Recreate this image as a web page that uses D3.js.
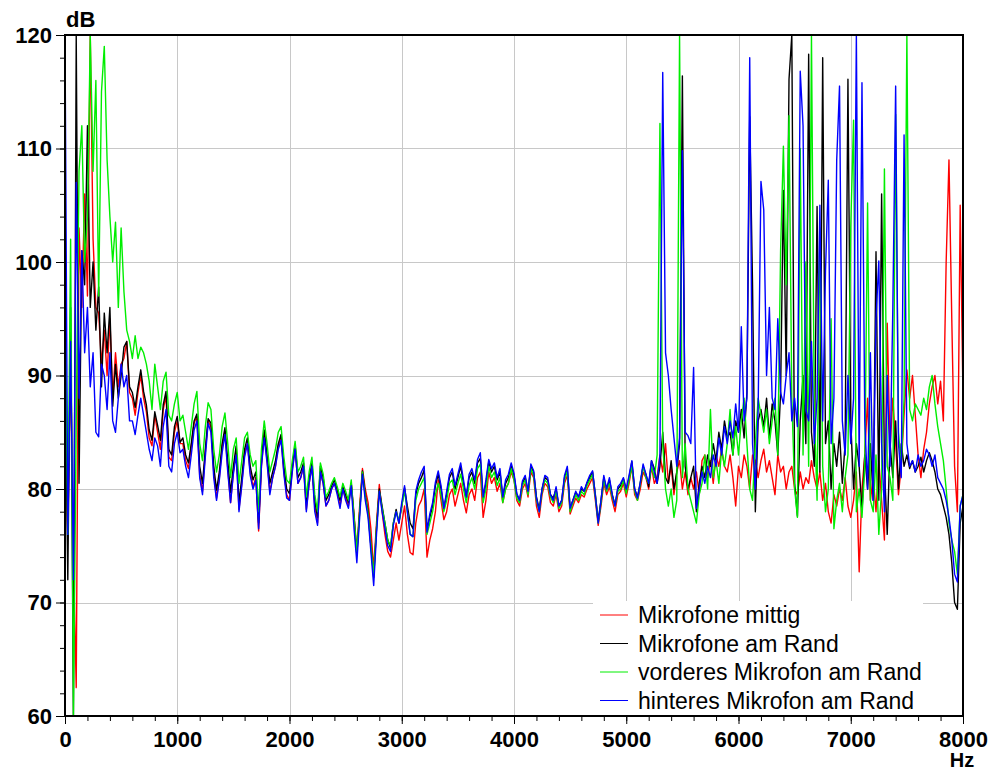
<!DOCTYPE html>
<html><head><meta charset="utf-8">
<script src="https://cdn.jsdelivr.net/npm/d3@7"></script>
<style>body{margin:0;background:#fff;} text{font-family:"Liberation Sans",Arial,sans-serif;}</style>
</head><body><svg id="c" width="994" height="771"></svg>
<script>
// frequency resolution of the sampled spectra (Hz)
const freqStep = 25;
const xTicksMajor = [0,1000,2000,3000,4000,5000,6000,7000,8000];
const yTicksMajor = [60,70,80,90,100,110,120];
const seriesNames = ["Mikrofone mittig","Mikrofone am Rand","vorderes Mikrofon am Rand","hinteres Mikrofon am Rand"];
const seriesColors = ["#ff0000","#000000","#00ee00","#0000ff"];

const red = [
88,76,92,74,62.5,103,96,106,97,120,102,96,95.5,91,94,90,95,88,92,89,91,91.5,93,88.5,
88.0,86.5,88.5,90.0,88.0,86.8,84.5,83.8,86.5,85.0,83.5,87.0,88.2,82.8,82.5,85.0,86.0,
84.0,84.0,82.5,81.8,83.8,85.8,86.4,81.2,79.8,83.2,86.0,85.5,81.5,79.2,81.0,83.8,85.0,81.8,78.8,81.5,83.5,78.2,80.5,83.2,84.0,81.5,80.2,81.0,76.3,82.0,85.0,82.5,79.8,81.0,82.0,83.8,84.5,81.5,79.5,79.0,
81.8,83.5,80.5,81.0,82.0,78.2,80.5,82.0,78.5,77.0,81.5,80.5,78.5,79.0,80.0,80.5,79.8,78.5,80.0,79.2,78.5,80.5,77.8,74.5,78.5,81.8,80.0,78.8,76.5,73.0,77.0,80.4,78.0,76.0,74.5,74.0,75.5,77.0,75.5,77.0,
78.5,76.0,74.4,74.2,77.0,78.5,79.0,80.0,74.0,75.5,76.5,78.0,80.8,79.0,77.3,78.0,79.5,80.0,78.5,79.5,80.5,79.0,77.9,79.5,80.0,79.0,81.0,81.5,77.5,79.0,81.5,80.5,81.0,79.8,80.5,78.8,80.0,80.5,81.5,80.8,
79.0,78.5,80.0,80.5,79.3,81.5,81.0,78.5,77.5,79.5,80.5,80.2,78.8,78.5,79.5,78.0,78.5,80.5,81.2,77.8,78.5,79.2,78.8,79.5,79.3,80.0,80.5,81.0,79.0,76.8,78.5,80.5,79.5,80.2,79.0,78.0,79.5,79.8,80.5,79.3,
80.5,82.0,79.5,79.0,80.0,81.5,81.0,
80.0,82.0,80.5,81.0,83.0,81.5,84.0,80.5,82.0,79.5,
81.5,82.5,80.0,81.5,79.5,81.0,80.0,81.5,79.5,82.5,
83.0,81.0,82.5,80.5,83.0,82.0,83.5,82.0,81.5,83.0,
81.0,78.5,82.0,81.0,83.0,82.0,80.0,83.0,82.5,81.0,
82.5,83.5,81.5,82.5,81.0,79.5,83.0,81.5,82.0,80.0,
81.5,82.0,80.0,79.5,81.5,80.0,81.0,80.5,82.5,81.0,
80.0,81.5,79.0,80.5,78.0,77.0,79.5,78.5,80.0,79.0,
81.0,78.5,77.5,79.0,81.5,72.7,80.0,83.0,88.0,79.0,
81.0,78.0,82.5,79.0,75.5,94.6,83.5,88.0,84.0,79.5,
82.0,86.5,90.5,88.0,90.0,86.5,83.0,81.0,83.5,85.0,
87.5,89.0,90.0,87.5,89.5,86.0,100.0,109.0,95.0,82.0,
78.0,105.0,88.0
];

const black = [
92,72,96,60,120,80.5,101,98,112,96,100,94,97.8,89,95.5,92,96,87.3,91,88,90,92.5,93,89,
88.5,87.2,89.0,90.5,88.6,87.4,85.2,84.3,86.8,85.6,84.3,87.4,88.6,83.5,83.0,85.5,86.4,
84.1,84.5,83.0,82.3,84.0,86.0,86.6,82.0,80.5,83.5,86.2,85.8,82.0,79.9,81.5,84.0,85.4,82.5,79.7,82.0,83.8,78.8,81.0,83.5,84.5,82.0,80.8,81.5,77.0,82.5,85.2,83.0,80.5,81.5,82.5,84.0,84.8,82.0,80.0,79.6,
82.0,83.9,81.0,81.5,82.3,78.8,81.0,82.3,79.0,77.5,82.0,81.0,79.0,79.5,80.3,80.8,80.0,79.0,80.2,79.5,78.8,80.5,77.5,74.2,78.0,81.6,79.5,78.0,75.0,72.2,76.5,80.0,78.5,77.0,75.5,74.8,77.0,78.2,77.0,78.5,
80.1,78.5,77.0,76.5,79.5,80.5,81.0,81.7,76.5,77.5,78.5,80.3,81.3,80.0,78.3,79.5,81.0,81.5,80.0,81.0,82.0,80.5,79.3,81.0,81.5,80.5,82.3,82.7,79.2,80.5,82.4,81.5,82.0,80.8,81.5,79.3,80.5,81.0,82.0,81.2,
79.5,79.0,80.5,81.0,79.8,82.0,81.5,79.3,78.2,80.0,81.0,80.8,79.5,79.2,80.0,78.5,79.0,81.0,81.8,78.3,79.0,79.7,79.3,80.0,79.8,80.5,81.0,81.5,79.5,77.2,79.0,81.0,80.0,80.8,79.5,78.6,80.0,80.3,80.9,79.8,
81.0,82.4,80.0,79.3,80.5,82.0,81.3,
80.2,82.5,81.8,80.5,82.0,85.0,81.0,80.5,82.5,80.0,
81.5,84.0,116.4,82.0,80.0,81.0,82.0,78.0,80.5,82.0,
81.0,83.0,82.0,84.0,82.5,85.0,83.5,86.0,84.5,85.0,
83.0,86.0,85.0,87.0,84.5,88.5,112.8,98.0,78.0,86.0,
87.0,85.5,88.0,84.5,87.5,86.0,83.0,88.5,106.3,90.0,
116.1,120,80.5,77.6,86.0,90.0,84.0,118.3,85.0,82.0,
104.9,81.5,118.0,84.0,86.0,80.0,84.0,82.0,85.0,80.5,
84.0,116.1,86.0,80.0,84.0,82.0,78.0,83.0,80.0,84.0,
79.0,100.9,79.0,106.0,82.0,76.0,84.0,81.0,86.0,80.0,
84.0,82.0,83.0,81.8,82.5,81.5,82.0,82.8,81.5,82.5,
83.2,82.5,81.5,80.0,79.5,78.5,77.5,76.0,73.5,70.0,
69.4,77.0,78.5
];

const green = [
100,76,102,60,86,108,112,100,104,120,108,116,97,115,119,109,104,100,103.5,96,103,97.4,94,93,
91.5,93.5,91.5,92.5,92.0,91.0,89.5,87.0,91.0,89.0,87.0,89.5,90.3,86.5,86.0,87.5,88.5,
86.0,86.5,85.0,83.5,85.5,87.5,88.6,84.0,82.5,85.5,87.6,87.0,83.5,81.5,83.0,85.5,86.7,84.0,81.0,83.5,84.5,80.5,82.5,84.5,85.0,83.0,82.0,82.5,78.0,83.5,86.0,84.0,81.5,82.5,83.5,85.0,85.5,82.8,80.8,80.5,
82.5,84.2,81.5,82.0,82.8,79.3,81.5,82.8,79.5,78.0,82.3,81.3,79.3,79.8,80.5,81.0,80.2,79.3,80.5,79.8,79.0,80.8,77.5,74.5,78.0,81.5,79.3,77.8,75.0,72.5,76.5,79.8,78.3,77.0,75.5,75.0,77.0,78.0,77.2,78.5,
79.8,78.0,76.0,75.8,79.0,80.0,80.5,81.0,76.0,77.0,78.0,79.5,80.5,79.5,78.0,79.0,80.5,80.8,79.5,80.5,81.3,80.0,78.8,80.3,81.0,80.0,81.8,82.2,78.8,80.0,82.0,81.0,81.5,80.3,81.0,78.8,80.0,80.5,81.8,80.8,
79.2,78.8,80.3,80.8,79.5,81.8,81.2,79.0,78.0,79.8,80.8,80.5,79.3,78.8,79.8,78.3,78.8,80.8,81.6,78.0,78.8,79.5,79.0,79.8,79.5,80.3,80.8,81.3,79.3,77.0,78.8,80.8,79.8,80.5,79.3,78.5,79.8,80.0,80.8,79.6,
80.8,82.0,79.8,79.0,80.5,82.0,81.0,
80.5,82.0,81.0,83.0,112.2,84.0,80.0,78.5,80.0,77.5,
79.0,120,81.0,84.0,80.0,79.0,78.0,77.0,79.5,80.5,
83.0,80.0,87.0,81.0,82.5,80.5,83.5,82.0,84.0,87.0,
83.0,85.5,83.0,86.0,88.0,84.0,80.0,79.0,84.0,88.0,
86.5,85.0,87.0,84.0,86.0,88.0,83.0,101.0,110.2,98.0,
112.9,88.0,80.0,77.5,110.0,83.0,100.0,82.0,120,87.0,
79.0,103.0,82.0,78.0,80.0,95.0,76.5,79.0,80.5,78.0,
81.0,83.0,103.1,112.5,78.0,80.0,77.5,82.0,105.2,79.0,
78.0,83.0,76.0,80.0,108.2,82.0,81.0,79.0,113.0,85.0,
82.0,88.0,120,87.0,86.0,87.5,87.0,86.5,88.0,87.0,
89.0,90.0,87.5,85.5,84.0,82.5,80.0,77.0,75.5,74.5,
72.5,78.5,79.5
];

const blue = [
120,76,93,72,107,88,101,92,96,89,92,85,84.6,91,90,87,92,86,85,88,91,89,90,86,
86.0,84.8,86.5,88.0,86.5,85.0,83.5,82.5,84.5,83.8,82.0,85.5,87.0,82.0,81.5,84.0,85.0,
83.2,83.5,82.0,81.0,83.0,85.2,86.0,81.0,79.5,82.8,85.8,85.0,81.0,79.0,80.8,83.2,84.8,81.5,78.8,81.3,83.0,78.0,80.3,82.8,84.0,81.2,80.0,80.8,76.5,82.0,84.5,82.3,79.5,81.0,82.0,83.5,84.3,81.3,79.2,79.0,
81.5,83.5,80.5,81.0,82.0,78.0,80.5,82.0,78.0,76.8,81.5,80.5,78.5,79.0,80.0,80.5,79.5,78.3,80.0,79.0,78.3,80.3,76.5,73.5,77.5,81.3,79.0,77.5,74.5,71.5,76.0,79.8,78.0,76.5,75.0,74.5,76.8,78.0,77.0,78.8,
80.3,78.0,76.0,75.8,79.8,80.8,81.5,82.0,76.2,77.8,78.8,80.6,81.6,80.3,78.3,79.8,81.3,81.8,80.3,81.3,82.3,80.8,79.3,81.3,81.8,80.8,82.6,83.2,79.3,80.8,82.6,81.8,82.3,81.0,81.8,79.3,80.8,81.3,82.3,81.4,
79.6,79.0,80.7,81.2,79.8,82.2,81.6,79.2,78.0,80.0,81.2,81.0,79.5,79.0,80.2,78.5,79.0,81.2,82.0,78.3,79.0,79.8,79.3,80.2,79.8,80.6,81.2,81.6,79.4,77.0,79.0,81.2,80.0,81.0,79.5,78.5,80.2,80.5,81.0,80.0,
81.2,82.5,80.0,79.2,80.6,82.2,81.3,
80.5,82.5,81.5,80.5,83.0,116.7,92.0,90.0,87.0,84.5,
82.0,84.5,109.8,85.0,84.7,84.0,90.7,78.3,80.0,81.5,
80.5,82.0,81.0,83.0,82.0,84.5,83.0,85.5,84.0,86.0,
84.5,87.5,85.0,94.3,86.0,88.0,118.0,84.0,80.0,87.0,
107.1,104.6,90.0,96.0,88.0,87.0,95.0,88.5,87.5,90.0,
92.0,86.0,88.0,85.5,116.8,112.0,87.0,86.0,93.0,84.0,
88.0,105.0,86.0,99.2,107.2,84.0,88.0,109.0,115.5,86.0,
83.0,90.0,84.0,88.0,120,82.0,115.8,86.0,80.0,92.0,
79.0,95.0,100.1,84.0,78.0,90.0,82.0,96.0,115.5,84.0,
81.0,111.2,84.0,82.0,82.5,81.5,83.0,82.0,82.5,83.5,
83.0,82.0,83.0,81.0,80.5,80.0,79.0,77.5,75.5,72.5,
71.8,78.5,79.5
];

const seriesValues = [red, black, green, blue];

const svg = d3.select("#c");
const mLeft = 65, mRight = 963, mTop = 35, mBottom = 716;
const x = d3.scaleLinear().domain([0, 8000]).range([mLeft, mRight]);
const y = d3.scaleLinear().domain([60, 120]).range([mBottom, mTop]);

// grid
const grid = svg.append("g").attr("stroke", "#c8c8c8").attr("stroke-width", 1);
xTicksMajor.slice(1, -1).forEach(v => grid.append("line")
  .attr("x1", Math.round(x(v)) + 0.5).attr("x2", Math.round(x(v)) + 0.5)
  .attr("y1", mTop).attr("y2", mBottom));
yTicksMajor.slice(1, -1).forEach(v => grid.append("line")
  .attr("y1", Math.round(y(v)) + 0.5).attr("y2", Math.round(y(v)) + 0.5)
  .attr("x1", mLeft).attr("x2", mRight));

svg.append("defs").append("clipPath").attr("id", "clip")
  .append("rect").attr("x", mLeft).attr("y", mTop).attr("width", mRight - mLeft).attr("height", mBottom - mTop);

const plot = svg.append("g").attr("clip-path", "url(#clip)");
const line = d3.line().x((d, i) => x(i * freqStep)).y(d => y(d));
seriesValues.forEach((vals, k) => {
  plot.append("path").datum(vals)
    .attr("fill", "none").attr("stroke", seriesColors[k])
    .attr("stroke-width", 1.4).attr("stroke-linejoin", "round")
    .attr("d", line);
});

// legend (white box covers grid)
const lg = svg.append("g");
lg.append("rect").attr("x", 593).attr("y", 601).attr("width", 330).attr("height", 114).attr("fill", "#fff");
seriesNames.forEach((n, k) => {
  const cy = 615 + k * 28.5;
  lg.append("line").attr("x1", 600).attr("x2", 628).attr("y1", cy).attr("y2", cy)
    .attr("stroke", seriesColors[k]).attr("stroke-width", 1);
  lg.append("text").attr("x", 638).attr("y", cy).attr("dy", "0.35em")
    .attr("font-size", 23).attr("fill", "#000").text(n);
});

// axes
const xAxisMinor = d3.axisBottom(x).tickValues(d3.range(0, 8001, 200)).tickSize(5).tickFormat("");
const xAxis = d3.axisBottom(x).tickValues(xTicksMajor).tickSize(8).tickPadding(7).tickFormat(d3.format("d"));
const yAxisMinor = d3.axisLeft(y).tickValues(d3.range(60, 121, 2)).tickSize(5).tickFormat("");
const yAxis = d3.axisLeft(y).tickValues(yTicksMajor).tickSize(9).tickPadding(4).tickFormat(d3.format("d"));

function styleAxis(g) {
  g.select(".domain").remove();
  g.selectAll(".tick line").attr("stroke", "#000").attr("stroke-width", 1);
  g.selectAll(".tick text").attr("font-family", '"Liberation Sans", Arial, sans-serif')
    .attr("font-weight", "bold").attr("font-size", 22).attr("fill", "#000");
}
svg.append("g").attr("transform", `translate(0,${mBottom})`).call(xAxisMinor).call(styleAxis);
svg.append("g").attr("transform", `translate(0,${mBottom})`).call(xAxis).call(styleAxis);
svg.append("g").attr("transform", `translate(${mLeft},0)`).call(yAxisMinor).call(styleAxis);
svg.append("g").attr("transform", `translate(${mLeft},0)`).call(yAxis).call(styleAxis);

// frame
svg.append("rect").attr("x", mLeft).attr("y", mTop).attr("width", mRight - mLeft).attr("height", mBottom - mTop)
  .attr("fill", "none").attr("stroke", "#000").attr("stroke-width", 2);

// unit labels
svg.append("text").attr("x", 66).attr("y", 27).attr("font-weight", "bold").attr("font-size", 22).text("dB");
svg.append("text").attr("x", 962).attr("y", 767).attr("text-anchor", "middle").attr("font-weight", "bold").attr("font-size", 20).text("Hz");
</script></body></html>
